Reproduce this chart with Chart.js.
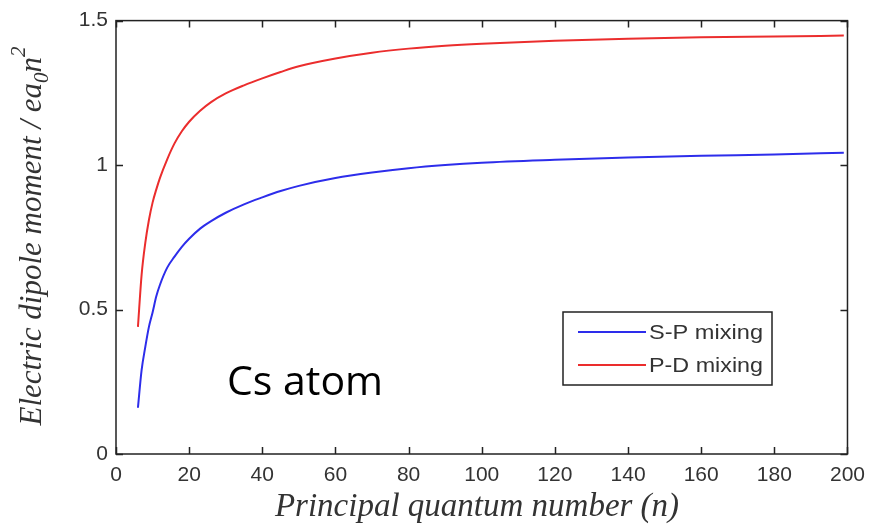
<!DOCTYPE html>
<html>
<head>
<meta charset="utf-8">
<script src="https://cdn.jsdelivr.net/npm/chart.js@4/dist/chart.umd.min.js"></script>
<style>
  html, body { margin: 0; padding: 0; background: #fff; }
  canvas { display: block; }
</style>
</head>
<body>
<canvas id="dipole" width="874" height="526"></canvas>
<script>
// principal quantum number n
const nValues = [6, 7, 8, 9, 10, 11, 12, 14, 16, 18, 20, 23, 26, 30, 35, 40, 45, 50,
                 60, 70, 80, 90, 100, 120, 140, 160, 180, 199];
// dipole moment in units of e*a0*n^2
const spMixing = [0.16, 0.29, 0.37, 0.44, 0.49, 0.545, 0.585, 0.645, 0.683, 0.717, 0.745, 0.78,
                  0.806, 0.835, 0.864, 0.888, 0.91, 0.928, 0.955, 0.974, 0.989, 1.0, 1.008,
                  1.018, 1.026, 1.032, 1.037, 1.043];
const pdMixing = [0.44, 0.62, 0.73, 0.81, 0.87, 0.915, 0.955, 1.02, 1.075, 1.117, 1.15, 1.188,
                  1.218, 1.248, 1.276, 1.3, 1.322, 1.342, 1.369, 1.389, 1.403, 1.413, 1.42,
                  1.43, 1.437, 1.442, 1.445, 1.448];
const xTicks = [0, 20, 40, 60, 80, 100, 120, 140, 160, 180, 200];
const yTicks = [0, 0.5, 1, 1.5];
const seriesLabels = ['S-P mixing', 'P-D mixing'];
const seriesColors = ['rgb(45,45,235)', 'rgb(235,45,45)'];

const toPoints = ys => nValues.map((n, i) => ({ x: n, y: ys[i] }));

// draw text squeezed/stretched horizontally to a given width
function fitText(ctx, text, x, y, width) {
    const w = ctx.measureText(text).width;
    ctx.save();
    ctx.translate(x, y);
    ctx.scale(width / w, 1);
    ctx.fillText(text, 0, 0);
    ctx.restore();
}

// matlab-like box with inward ticks, legend and annotation text
const figureDecor = {
    id: 'figureDecor',
    afterDraw(chart) {
        const ctx = chart.ctx;
        const a = chart.chartArea;
        const sx = chart.scales.x, sy = chart.scales.y;
        ctx.save();

        // frame
        ctx.strokeStyle = '#222';
        ctx.lineWidth = 1.5;
        ctx.strokeRect(a.left, a.top, a.right - a.left, a.bottom - a.top);

        // inward ticks on all four sides
        const tl = 7;
        ctx.beginPath();
        xTicks.forEach(v => {
            const px = Math.round(sx.getPixelForValue(v)) + 0.5;
            ctx.moveTo(px, a.bottom); ctx.lineTo(px, a.bottom - tl);
            ctx.moveTo(px, a.top); ctx.lineTo(px, a.top + tl);
        });
        yTicks.forEach(v => {
            const py = Math.round(sy.getPixelForValue(v)) + 0.5;
            ctx.moveTo(a.left, py); ctx.lineTo(a.left + tl, py);
            ctx.moveTo(a.right, py); ctx.lineTo(a.right - tl, py);
        });
        ctx.stroke();

        // legend
        ctx.fillStyle = '#fff';
        ctx.fillRect(563, 312, 209, 73);
        ctx.strokeStyle = '#222';
        ctx.lineWidth = 1.5;
        ctx.strokeRect(563, 312, 209, 73);
        ctx.font = '21px "Liberation Sans", Arial, sans-serif';
        ctx.textBaseline = 'middle';
        ctx.textAlign = 'left';
        [332, 365].forEach((ly, i) => {
            ctx.strokeStyle = seriesColors[i];
            ctx.lineWidth = 2;
            ctx.beginPath();
            ctx.moveTo(578, ly); ctx.lineTo(646, ly);
            ctx.stroke();
            ctx.fillStyle = '#333';
            fitText(ctx, seriesLabels[i], 649, ly + 1, 114);
        });

        // annotation
        ctx.fillStyle = '#000';
        ctx.font = '41px "Open Sans", "Noto Sans", sans-serif';
        ctx.textBaseline = 'alphabetic';
        ctx.fillText('Cs atom', 227, 395);

        // x axis title
        ctx.fillStyle = '#333';
        ctx.font = 'italic 33px "Liberation Serif", "Times New Roman", serif';
        ctx.textAlign = 'center';
        ctx.fillText('Principal quantum number (n)', 477, 516);

        // y axis title with sub/superscript, rotated
        const big = 'italic 31px "Liberation Serif", "Times New Roman", serif';
        const small = 'italic 21px "Liberation Serif", "Times New Roman", serif';
        const parts = [
            { t: 'Electric dipole moment / ea', f: big, dy: 0 },
            { t: '0', f: small, dy: 7 },
            { t: 'n', f: big, dy: 0 },
            { t: '2', f: small, dy: -16 }
        ];
        let total = 0;
        parts.forEach(p => { ctx.font = p.f; p.w = ctx.measureText(p.t).width; total += p.w; });
        ctx.translate(41, 236);
        ctx.rotate(-Math.PI / 2);
        ctx.textAlign = 'left';
        let cx = -total / 2;
        parts.forEach(p => {
            ctx.font = p.f;
            ctx.fillText(p.t, cx, p.dy);
            cx += p.w;
        });
        ctx.restore();
    }
};

new Chart(document.getElementById('dipole'), {
    type: 'line',
    data: {
        datasets: [
            {
                label: seriesLabels[0],
                data: toPoints(spMixing),
                borderColor: seriesColors[0],
                borderWidth: 2,
                pointRadius: 0,
                cubicInterpolationMode: 'monotone',
                fill: false
            },
            {
                label: seriesLabels[1],
                data: toPoints(pdMixing),
                borderColor: seriesColors[1],
                borderWidth: 2,
                pointRadius: 0,
                cubicInterpolationMode: 'monotone',
                fill: false
            }
        ]
    },
    options: {
        responsive: false,
        animation: false,
        layout: { padding: { top: 17, right: 25, left: 0, bottom: 0 } },
        plugins: {
            legend: { display: false },
            tooltip: { enabled: false }
        },
        scales: {
            x: {
                type: 'linear',
                min: 0,
                max: 200,
                afterBuildTicks: s => { s.ticks = xTicks.map(v => ({ value: v })); },
                afterFit: s => { s.height = 72; },
                grid: { display: false, drawTicks: false },
                border: { display: false },
                ticks: {
                    padding: 9,
                    color: '#333',
                    font: { family: '"Liberation Sans", Arial, sans-serif', size: 21 },
                    maxRotation: 0
                }
            },
            y: {
                min: 0,
                max: 1.5,
                afterBuildTicks: s => { s.ticks = yTicks.map(v => ({ value: v })); },
                afterFit: s => { s.width = 116; },
                grid: { display: false, drawTicks: false },
                border: { display: false },
                ticks: {
                    padding: 8,
                    color: '#333',
                    font: { family: '"Liberation Sans", Arial, sans-serif', size: 21 },
                    callback: v => String(v)
                }
            }
        }
    },
    plugins: [figureDecor]
});
</script>
</body>
</html>
